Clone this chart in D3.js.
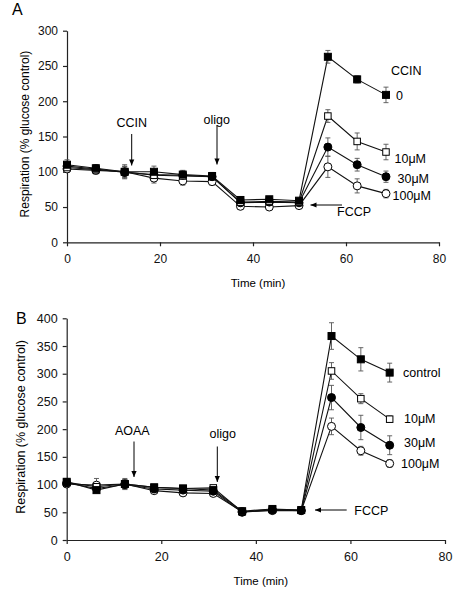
<!DOCTYPE html>
<html><head><meta charset="utf-8">
<script src="https://cdn.jsdelivr.net/npm/d3@7"></script>
<style>body{margin:0;background:#fff}svg{display:block;font-family:"Liberation Sans",Arial,sans-serif}</style>
</head><body><svg id="c" width="461" height="599"></svg>
<script>
// ---------- Data ----------
const timesA = [0, 6.2, 12.4, 18.7, 24.9, 31.2, 37.3, 43.5, 49.9, 56.1, 62.4, 68.6];
const aCtrl = [110, 105, 100, 100, 96, 94, 60, 61, 59, 263, 231, 209];
const a10   = [106, 103, 100, 95, 94, 93, 57, 58, 57, 179, 143, 128];
const a30   = [108, 104, 99, 96, 95, 93, 56, 57, 56, 135, 110, 93];
const a100  = [104, 102, 100, 91, 87, 86, 51, 50, 52, 107, 80, 69];
const aCtrlErr = [7, 5, 8, 8, 6, 5, 4, 4, 3, 9, 5, 11];
const a10Err   = [6, 6, 7, 7, 6, 5, 3, 3, 3, 9, 12, 11];
const a30Err   = [6, 6, 8, 7, 6, 6, 3, 3, 3, 13, 9, 8];
const a100Err  = [5, 5, 10, 7, 6, 5, 3, 3, 3, 15, 10, 6];

const timesB = [0, 6.3, 12.3, 18.5, 24.6, 31.0, 37.1, 43.5, 49.6, 56.0, 62.2, 68.3];
const bCtrl = [105, 90, 101, 95, 93, 90, 52, 56, 54, 368, 326, 302];
const b10   = [104, 96, 101, 95, 93, 94, 51, 55, 54, 305, 255, 218];
const b30   = [103, 93, 100, 92, 90, 88, 50, 54, 53, 257, 203, 171];
const b100  = [101, 99, 101, 89, 85, 84, 51, 53, 53, 205, 161, 138];
const bCtrlErr = [6, 5, 8, 5, 5, 4, 3, 3, 3, 24, 21, 17];
const b10Err   = [5, 5, 8, 5, 5, 4, 3, 3, 3, 15, 9, 6];
const b30Err   = [5, 5, 8, 5, 5, 4, 3, 3, 3, 22, 22, 17];
const b100Err  = [5, 12, 10, 5, 4, 4, 3, 3, 3, 15, 8, 7];

const xTicks = [0, 20, 40, 60, 80];
const yTicksA = [0, 50, 100, 150, 200, 250, 300];
const yTicksB = [0, 50, 100, 150, 200, 250, 300, 350, 400];
const seriesLabelsA = ["0", "10\u03BCM", "30\u03BCM", "100\u03BCM"];
const seriesLabelsB = ["control", "10\u03BCM", "30\u03BCM", "100\u03BCM"];
const markerTypes = ["fsq", "osq", "fci", "oci"];

const svg = d3.select("#c");

function panel(cfg) {
  const g = svg.append("g");
  const x = d3.scaleLinear().domain([0, 80]).range([cfg.x0, cfg.x1]);
  const y = d3.scaleLinear().domain([0, cfg.ymax]).range([cfg.y0, cfg.y1]);

  const xa = g.append("g").attr("transform", `translate(0,${cfg.y0})`)
    .call(d3.axisBottom(x).tickValues(xTicks).tickSize(4).tickPadding(8).tickSizeOuter(0));
  const ya = g.append("g").attr("transform", `translate(${cfg.x0},0)`)
    .call(d3.axisLeft(y).tickValues(cfg.yTicks).tickSize(4).tickPadding(5).tickSizeOuter(0));
  [xa, ya].forEach(a => {
    a.selectAll("path,line").attr("stroke", "#222").attr("stroke-width", 1.2);
    a.selectAll("text").attr("font-size", cfg.tickFs).attr("fill", "#111").attr("font-family", "Liberation Sans, Arial, sans-serif");
  });

  g.append("text").attr("x", (cfg.x0 + cfg.x1) / 2 + 5).attr("y", cfg.y0 + 45)
    .attr("text-anchor", "middle").attr("font-size", 11.5).text("Time (min)");
  g.append("text").attr("transform", `translate(${cfg.ylabX},${cfg.ylabY}) rotate(-90)`)
    .attr("text-anchor", "middle").attr("font-size", cfg.ylabFs).text("Respiration (% glucose control)");
  g.append("text").attr("x", cfg.letterX).attr("y", cfg.letterY).attr("font-size", 16).text(cfg.letter);

  const line = d3.line().x(d => x(d[0])).y(d => y(d[1]));
  const order = [3, 2, 1, 0];
  order.forEach(i => {
    const pts = cfg.times.map((t, k) => [t, cfg.series[i][k]]);
    g.append("path").attr("d", line(pts)).attr("fill", "none").attr("stroke", "#111").attr("stroke-width", 1.1);
  });
  order.forEach(i => {
    cfg.times.forEach((t, k) => {
      const v = cfg.series[i][k], e = cfg.errs[i][k];
      const cx = x(t);
      const eg = g.append("g").attr("stroke", "#555").attr("stroke-width", 0.9);
      eg.append("line").attr("x1", cx).attr("x2", cx).attr("y1", y(v - e)).attr("y2", y(v + e));
      eg.append("line").attr("x1", cx - 2.5).attr("x2", cx + 2.5).attr("y1", y(v - e)).attr("y2", y(v - e));
      eg.append("line").attr("x1", cx - 2.5).attr("x2", cx + 2.5).attr("y1", y(v + e)).attr("y2", y(v + e));
    });
  });
  order.forEach(i => {
    const type = markerTypes[i];
    cfg.times.forEach((t, k) => {
      const cx = x(t), cy = y(cfg.series[i][k]);
      const filled = type[0] === "f";
      if (type.endsWith("sq")) {
        const s = filled ? 7 : 6.5;
        g.append("rect").attr("x", cx - s / 2).attr("y", cy - s / 2).attr("width", s).attr("height", s)
          .attr("fill", filled ? "#000" : "#fff").attr("stroke", "#000").attr("stroke-width", 1);
      } else {
        g.append("circle").attr("cx", cx).attr("cy", cy).attr("r", 4)
          .attr("fill", filled ? "#000" : "#fff").attr("stroke", "#000").attr("stroke-width", 1);
      }
    });
  });

  const fs = 12.5;
  cfg.labels.forEach(l => {
    g.append("text").attr("x", l.x).attr("y", l.y).attr("font-size", fs)
      .attr("text-anchor", l.anchor || "start").attr("dominant-baseline", "central").text(l.t);
  });
  cfg.arrows.forEach(a => {
    g.append("line").attr("x1", a.x1).attr("y1", a.y1).attr("x2", a.x2).attr("y2", a.y2)
      .attr("stroke", "#000").attr("stroke-width", 1);
    const ang = Math.atan2(a.y2 - a.y1, a.x2 - a.x1);
    const L = 6, W = 2.6;
    const bx = a.x2 - L * Math.cos(ang), by = a.y2 - L * Math.sin(ang);
    const px = -Math.sin(ang) * W, py = Math.cos(ang) * W;
    g.append("path").attr("d", `M${a.x2},${a.y2}L${bx + px},${by + py}L${bx - px},${by - py}Z`).attr("fill", "#000");
  });
}

panel({
  letter: "A", letterX: 12, letterY: 15,
  x0: 67, x1: 439, y0: 242.3, y1: 30.7, ymax: 300, yTicks: yTicksA, tickFs: 12,
  ylabX: 29, ylabY: 134, ylabFs: 12,
  times: timesA, series: [aCtrl, a10, a30, a100], errs: [aCtrlErr, a10Err, a30Err, a100Err],
  labels: [
    {t: "CCIN", x: 131.7, y: 123, anchor: "middle"},
    {t: "oligo", x: 216.7, y: 119.5, anchor: "middle"},
    {t: "CCIN", x: 391, y: 71},
    {t: seriesLabelsA[0], x: 396, y: 95.5},
    {t: seriesLabelsA[1], x: 394.5, y: 158.5},
    {t: seriesLabelsA[2], x: 397.5, y: 179},
    {t: seriesLabelsA[3], x: 392.5, y: 196},
    {t: "FCCP", x: 337, y: 212}
  ],
  arrows: [
    {x1: 131.7, y1: 134, x2: 131.7, y2: 165.5},
    {x1: 217, y1: 125, x2: 217, y2: 164.5},
    {x1: 342, y1: 205, x2: 310.5, y2: 205}
  ]
});

panel({
  letter: "B", letterX: 16, letterY: 324,
  x0: 66.7, x1: 445, y0: 540, y1: 318.3, ymax: 400, yTicks: yTicksB, tickFs: 12.5,
  ylabX: 25, ylabY: 427, ylabFs: 12.5,
  times: timesB, series: [bCtrl, b10, b30, b100], errs: [bCtrlErr, b10Err, b30Err, b100Err],
  labels: [
    {t: "AOAA", x: 132.3, y: 431, anchor: "middle"},
    {t: "oligo", x: 222.7, y: 433.5, anchor: "middle"},
    {t: seriesLabelsB[0], x: 403, y: 373},
    {t: seriesLabelsB[1], x: 404, y: 418.5},
    {t: seriesLabelsB[2], x: 404, y: 443},
    {t: seriesLabelsB[3], x: 401, y: 463.5},
    {t: "FCCP", x: 354.3, y: 511}
  ],
  arrows: [
    {x1: 134, y1: 441.5, x2: 134, y2: 477},
    {x1: 217.3, y1: 446.5, x2: 217.3, y2: 482},
    {x1: 346.7, y1: 510, x2: 315, y2: 510}
  ]
});
</script></body></html>
